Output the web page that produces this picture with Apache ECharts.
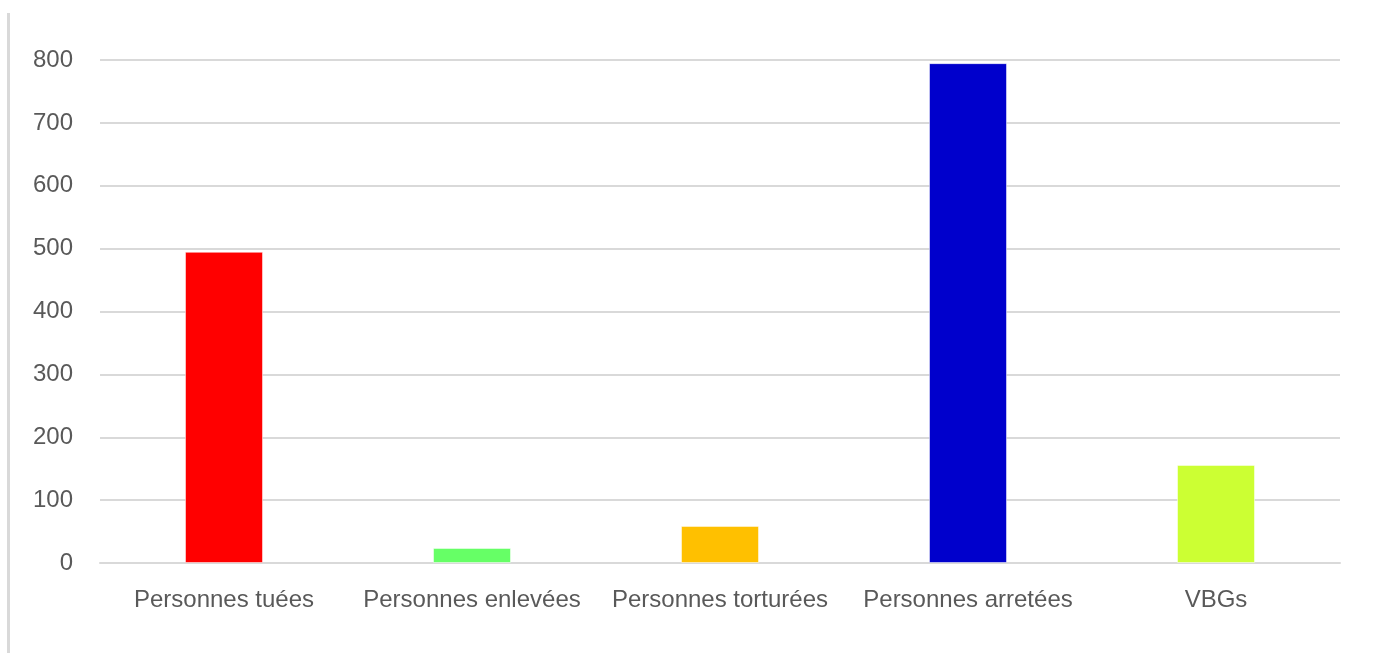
<!DOCTYPE html>
<html>
<head>
<meta charset="utf-8">
<script src="https://cdn.jsdelivr.net/npm/echarts@6/dist/echarts.min.js"></script>
<style>html,body{margin:0;padding:0;background:#fff;}#chart{width:1392px;height:653px;}</style>
</head>
<body>
<div id="chart"></div>
<script>
const categories = ['Personnes tuées', 'Personnes enlevées', 'Personnes torturées', 'Personnes arretées', 'VBGs'];
const values = [495, 24, 59, 795, 156];
const barColors = ['#FF0000', '#66FF66', '#FFC000', '#0000CC', '#CCFF33'];
const yTicks = { min: 0, max: 800, interval: 100 };

const chart = echarts.init(document.getElementById('chart'), null, { renderer: 'canvas' });
const font = 'Liberation Sans';
chart.setOption({
  animation: false,
  backgroundColor: '#ffffff',
  graphic: [{
    type: 'line',
    shape: { x1: 8.5, y1: 13, x2: 8.5, y2: 653 },
    style: { stroke: '#d9d9d9', lineWidth: 3 }
  }],
  grid: { left: 100, right: 52, top: 60, bottom: 90, containLabel: false },
  xAxis: {
    type: 'category',
    data: categories,
    axisLine: { show: true, lineStyle: { color: '#d9d9d9', width: 2 } },
    axisTick: { show: false },
    axisLabel: { color: '#595959', fontFamily: font, fontSize: 24, margin: 25, interval: 0 }
  },
  yAxis: {
    type: 'value',
    min: yTicks.min, max: yTicks.max, interval: yTicks.interval,
    axisLine: { show: false },
    axisTick: { show: false },
    splitLine: { lineStyle: { color: '#d9d9d9', width: 2 } },
    axisLabel: { color: '#595959', fontFamily: font, fontSize: 24, margin: 27 }
  },
  series: [{
    type: 'bar',
    data: values.map((v, i) => ({ value: v, itemStyle: { color: barColors[i] } })),
    barWidth: 78,
    itemStyle: { borderColor: 'rgba(255,255,255,0.5)', borderWidth: 1 }
  }]
});
</script>
</body>
</html>
